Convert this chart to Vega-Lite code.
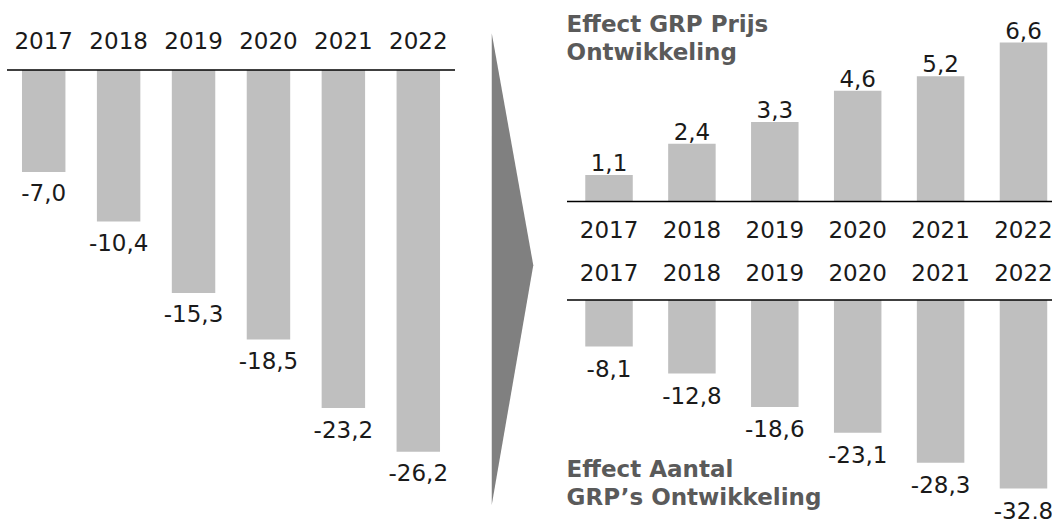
{
  "$schema": "https://vega.github.io/schema/vega-lite/v6.json",
  "padding": {"left": 6, "top": 0, "right": 0, "bottom": 0},
  "background": "white",
  "spacing": 0,
  "bounds": "flush",
  "config": {
    "view": {"stroke": null},
    "locale": {"number": {"decimal": ",", "thousands": ".", "grouping": [3], "currency": ["€", ""], "minus": "-"}},
    "text": {"font": "DejaVu Sans", "fontSize": 23, "color": "#1a1a1a"}
  },
  "datasets": {
    "left": [
      {"year": "2017", "value": -7.0},
      {"year": "2018", "value": -10.4},
      {"year": "2019", "value": -15.3},
      {"year": "2020", "value": -18.5},
      {"year": "2021", "value": -23.2},
      {"year": "2022", "value": -26.2}
    ],
    "price": [
      {"year": "2017", "value": 1.1},
      {"year": "2018", "value": 2.4},
      {"year": "2019", "value": 3.3},
      {"year": "2020", "value": 4.6},
      {"year": "2021", "value": 5.2},
      {"year": "2022", "value": 6.6}
    ],
    "count": [
      {"year": "2017", "value": -8.1},
      {"year": "2018", "value": -12.8},
      {"year": "2019", "value": -18.6},
      {"year": "2020", "value": -23.1},
      {"year": "2021", "value": -28.3},
      {"year": "2022", "value": -32.8}
    ],
    "arrow": [
      {"x": 32.8, "top": 6.4, "bottom": 97.3},
      {"x": 69.9, "top": 51.1, "bottom": 51.1}
    ],
    "baseline": [{"value": 0}],
    "titles": [
      {"chart": "price", "label": "Effect GRP Prijs\nOntwikkeling"},
      {"chart": "count", "label": "Effect Aantal\nGRP’s Ontwikkeling"}
    ]
  },
  "hconcat": [
    {
      "width": 448,
      "height": 519,
      "layer": [
        {
          "data": {"name": "left"},
          "mark": {"type": "bar", "color": "#bfbfbf"},
          "encoding": {
            "x": {"field": "year", "type": "nominal", "axis": null, "scale": {"paddingInner": 0.42, "paddingOuter": 0.2}},
            "y": {"field": "value", "type": "quantitative", "axis": null, "scale": {"domain": [-30.817, 4.804], "nice": false}},
            "y2": {"datum": 0}
          }
        },
        {
          "data": {"name": "left"},
          "mark": {"type": "text", "baseline": "middle", "dy": 22.5},
          "encoding": {
            "x": {"field": "year", "type": "nominal"},
            "y": {"field": "value", "type": "quantitative"},
            "text": {"field": "value", "type": "quantitative", "format": ".1f"}
          }
        },
        {
          "data": {"name": "left"},
          "mark": {"type": "text", "baseline": "middle"},
          "encoding": {
            "x": {"field": "year", "type": "nominal"},
            "y": {"datum": 1.908, "type": "quantitative"},
            "text": {"field": "year", "type": "nominal"}
          }
        },
        {
          "data": {"name": "baseline"},
          "mark": {"type": "rule", "color": "#000000", "strokeWidth": 1.6},
          "encoding": {"y": {"field": "value", "type": "quantitative"}}
        }
      ]
    },
    {
      "width": 112,
      "height": 519,
      "data": {"name": "arrow"},
      "mark": {"type": "area", "color": "#808080", "opacity": 1},
      "encoding": {
        "x": {"field": "x", "type": "quantitative", "axis": null, "scale": {"domain": [0, 100], "nice": false, "zero": false}},
        "y": {"field": "top", "type": "quantitative", "axis": null, "scale": {"domain": [0, 100], "reverse": true, "nice": false, "zero": false}},
        "y2": {"field": "bottom"}
      }
    },
    {
      "width": 486,
      "height": 519,
      "resolve": {"scale": {"y": "independent"}},
      "layer": [
        {
          "layer": [
            {
              "data": {"name": "price"},
              "mark": {"type": "bar", "color": "#bfbfbf"},
              "encoding": {
                "x": {"field": "year", "type": "nominal", "axis": null, "scale": {"paddingInner": 0.427, "paddingOuter": 0.145, "align": 0.76}},
                "y": {"field": "value", "type": "quantitative", "axis": null, "scale": {"domain": [-13.174, 8.361], "nice": false}},
                "y2": {"datum": 0}
              }
            },
            {
              "data": {"name": "price"},
              "mark": {"type": "text", "baseline": "middle", "dy": -10.8},
              "encoding": {
                "x": {"field": "year", "type": "nominal"},
                "y": {"field": "value", "type": "quantitative"},
                "text": {"field": "value", "type": "quantitative", "format": ".1f"}
              }
            },
            {
              "data": {"name": "price"},
              "mark": {"type": "text", "baseline": "middle"},
              "encoding": {
                "x": {"field": "year", "type": "nominal"},
                "y": {"datum": -1.216, "type": "quantitative"},
                "text": {"field": "year", "type": "nominal"}
              }
            },
            {
              "data": {"name": "baseline"},
              "mark": {"type": "rule", "color": "#000000", "strokeWidth": 1.6},
              "encoding": {"y": {"field": "value", "type": "quantitative"}}
            },
            {
              "data": {"name": "titles"},
              "transform": [{"filter": "datum.chart == 'price'"}],
              "mark": {"type": "text", "align": "left", "baseline": "alphabetic", "dx": -42.4, "lineBreak": "\n", "lineHeight": 28.3, "color": "#5a5a5a", "fontSize": 23, "fontWeight": "bold"},
              "encoding": {
                "x": {"datum": "2017", "type": "nominal"},
                "y": {"datum": 7.046, "type": "quantitative"},
                "text": {"field": "label", "type": "nominal"}
              }
            }
          ]
        },
        {
          "layer": [
            {
              "data": {"name": "count"},
              "mark": {"type": "bar", "color": "#bfbfbf"},
              "encoding": {
                "x": {"field": "year", "type": "nominal"},
                "y": {"field": "value", "type": "quantitative", "axis": null, "scale": {"domain": [-38.087, 52.174], "nice": false}},
                "y2": {"datum": 0}
              }
            },
            {
              "data": {"name": "count"},
              "mark": {"type": "text", "baseline": "middle", "dy": 23.5},
              "encoding": {
                "x": {"field": "year", "type": "nominal"},
                "y": {"field": "value", "type": "quantitative"},
                "text": {"field": "value", "type": "quantitative", "format": ".1f"}
              }
            },
            {
              "data": {"name": "count"},
              "mark": {"type": "text", "baseline": "middle"},
              "encoding": {
                "x": {"field": "year", "type": "nominal"},
                "y": {"datum": 4.487, "type": "quantitative"},
                "text": {"field": "year", "type": "nominal"}
              }
            },
            {
              "data": {"name": "baseline"},
              "mark": {"type": "rule", "color": "#000000", "strokeWidth": 1.6},
              "encoding": {"y": {"field": "value", "type": "quantitative"}}
            },
            {
              "data": {"name": "titles"},
              "transform": [{"filter": "datum.chart == 'count'"}],
              "mark": {"type": "text", "align": "left", "baseline": "alphabetic", "dx": -42.4, "lineBreak": "\n", "lineHeight": 28.3, "color": "#5a5a5a", "fontSize": 23, "fontWeight": "bold"},
              "encoding": {
                "x": {"datum": "2017", "type": "nominal"},
                "y": {"datum": -30.73, "type": "quantitative"},
                "text": {"field": "label", "type": "nominal"}
              }
            }
          ]
        }
      ]
    }
  ]
}
